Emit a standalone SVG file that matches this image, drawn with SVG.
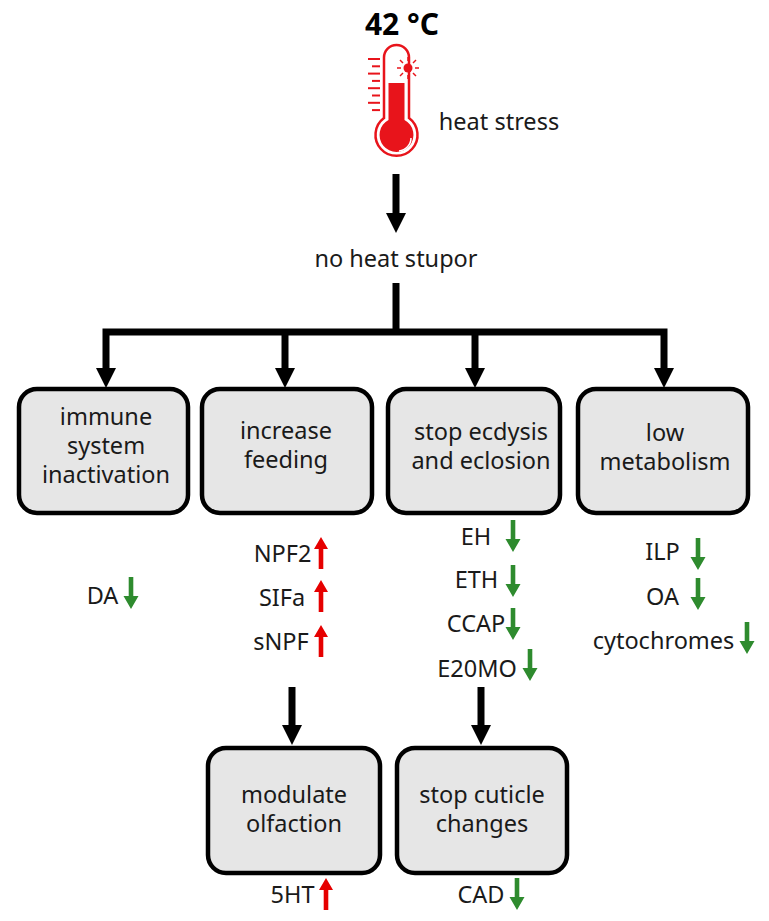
<svg xmlns="http://www.w3.org/2000/svg" width="769" height="921" viewBox="0 0 769 921">
<style>
text{font-family:"Noto Sans","Liberation Sans",sans-serif;font-size:23.5px;fill:#1a1a1a;text-anchor:middle}
.title{font-weight:bold;font-size:30px;fill:#000}
.box{fill:#e6e6e6;stroke:#000;stroke-width:4.5}
.conn{stroke:#000;stroke-width:7;fill:none}
.head{fill:#000}
.up{fill:#e60000}
.down{fill:#2e8b2e}
.th{stroke:#e8141b;fill:none}
</style>
<defs>
<path id="upArrow" d="M-2.3,32 V12 H-7 L0,0 L7,12 H2.3 V32 Z"/>
<path id="downArrow" d="M-2.3,0 H2.3 V19 H7.5 L0,32 L-7.5,19 H-2.3 Z"/>
<path id="bigHead" d="M-10,0 H10 L0,20 Z"/>
</defs>
<rect width="769" height="921" fill="#fff"/>

<g id="header">
<text class="title" x="402" y="35">42 °C</text>
<g id="thermometer">
<path class="th" stroke-width="2.5" d="M384,118 V57.5 A12.5,12.5 0 0 1 409,57.5 V118 A21,21 0 1 1 384,118 Z"/>
<path fill="#e8141b" d="M388.5,83 H404.5 V120 A17,17 0 1 1 388.5,120 Z"/>
<path d="M411,138 A13,13 0 0 1 399,151" stroke="#fff" stroke-width="1.5" fill="none"/>
<g class="th" stroke-width="2">
<line x1="368" y1="59" x2="380" y2="59"/>
<line x1="372" y1="66.3" x2="380" y2="66.3"/>
<line x1="368" y1="73.6" x2="380" y2="73.6"/>
<line x1="372" y1="80.9" x2="380" y2="80.9"/>
<line x1="368" y1="88.2" x2="380" y2="88.2"/>
<line x1="372" y1="95.5" x2="380" y2="95.5"/>
<line x1="368" y1="102.8" x2="380" y2="102.8"/>
<line x1="372" y1="110.1" x2="380" y2="110.1"/>
</g>
<circle cx="408" cy="68" r="4.5" fill="#e8141b"/>
<g class="th" stroke-width="1.5">
<line x1="408" y1="61" x2="408" y2="57"/>
<line x1="408" y1="75" x2="408" y2="79"/>
<line x1="415" y1="68" x2="419" y2="68"/>
<line x1="401" y1="68" x2="397" y2="68"/>
<line x1="413" y1="63" x2="416" y2="60"/>
<line x1="403" y1="63" x2="400" y2="60"/>
<line x1="413" y1="73" x2="416" y2="76"/>
<line x1="403" y1="73" x2="400" y2="76"/>
</g>
</g>
<text x="499" y="130">heat stress</text>
</g>

<g id="connectors">
<line class="conn" x1="396" y1="174" x2="396" y2="215"/>
<use href="#bigHead" class="head" x="396" y="213"/>
<line class="conn" x1="396" y1="283" x2="396" y2="332"/>
<path class="conn" d="M106,371 V332 H664 V371"/>
<line class="conn" x1="285" y1="332" x2="285" y2="371"/>
<line class="conn" x1="475" y1="332" x2="475" y2="371"/>
<use href="#bigHead" class="head" x="106" y="368"/>
<use href="#bigHead" class="head" x="285" y="368"/>
<use href="#bigHead" class="head" x="475" y="368"/>
<use href="#bigHead" class="head" x="664" y="368"/>
<line class="conn" x1="292" y1="687" x2="292" y2="727"/>
<line class="conn" x1="481" y1="687" x2="481" y2="727"/>
<use href="#bigHead" class="head" x="292" y="725"/>
<use href="#bigHead" class="head" x="481" y="725"/>
</g>

<g id="stupor"><text x="396" y="267">no heat stupor</text></g>

<g id="immune">
<rect class="box" x="19" y="389" width="169" height="124" rx="18"/>
<text x="106" y="425">immune</text>
<text x="106" y="454">system</text>
<text x="106" y="483">inactivation</text>
</g>
<g id="feeding">
<rect class="box" x="202" y="389" width="170" height="124" rx="18"/>
<text x="286" y="439">increase</text>
<text x="286" y="468">feeding</text>
</g>
<g id="ecdysis">
<rect class="box" x="388" y="389" width="172" height="124" rx="18"/>
<text x="481" y="440">stop ecdysis</text>
<text x="481" y="469">and eclosion</text>
</g>
<g id="metabolism">
<rect class="box" x="578" y="389" width="170" height="124" rx="18"/>
<text x="665" y="441">low</text>
<text x="665" y="470">metabolism</text>
</g>
<g id="olfaction">
<rect class="box" x="208" y="748" width="172" height="125" rx="18"/>
<text x="294" y="803">modulate</text>
<text x="294" y="832">olfaction</text>
</g>
<g id="cuticle">
<rect class="box" x="397" y="748" width="170" height="125" rx="18"/>
<text x="482" y="803">stop cuticle</text>
<text x="482" y="832">changes</text>
</g>

<g id="markers">
<text x="102.5" y="604">DA</text><use href="#downArrow" class="down" x="131" y="577"/>
<text x="282.5" y="562">NPF2</text><use href="#upArrow" class="up" x="321" y="537"/>
<text x="282" y="606">SIFa</text><use href="#upArrow" class="up" x="321" y="580"/>
<text x="281" y="650">sNPF</text><use href="#upArrow" class="up" x="321" y="625"/>
<text x="476" y="545">EH</text><use href="#downArrow" class="down" x="513" y="520"/>
<text x="476.5" y="588">ETH</text><use href="#downArrow" class="down" x="513" y="565"/>
<text x="476" y="632">CCAP</text><use href="#downArrow" class="down" x="513" y="608"/>
<text x="477" y="677">E20MO</text><use href="#downArrow" class="down" x="530" y="649"/>
<text x="662.5" y="560">ILP</text><use href="#downArrow" class="down" x="698" y="538"/>
<text x="662.5" y="605">OA</text><use href="#downArrow" class="down" x="698" y="578"/>
<text x="663.5" y="649">cytochromes</text><use href="#downArrow" class="down" x="747" y="622"/>
<text x="292.5" y="903">5HT</text><use href="#upArrow" class="up" x="326" y="878"/>
<text x="481" y="903">CAD</text><use href="#downArrow" class="down" x="517" y="878"/>
</g>
</svg>
